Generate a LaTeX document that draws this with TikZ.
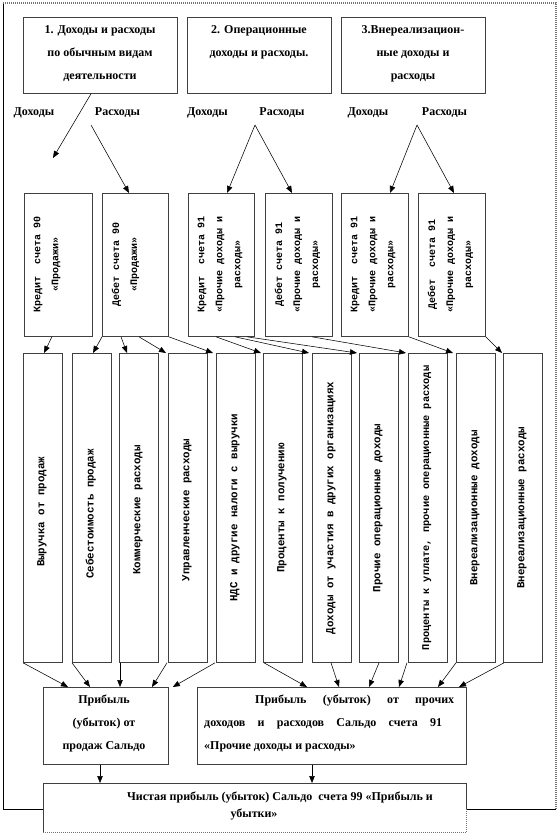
\documentclass[tikz,border=0pt]{standalone}
\usepackage{fontspec}
\setmainfont{Liberation Serif}
\newfontfamily\monof{Liberation Mono}
\usetikzlibrary{arrows.meta,calc}
\begin{document}
\begin{tikzpicture}[x=1pt,y=-1pt,
  box/.style={draw=black!75, line width=0.8pt, inner sep=0, anchor=north west, fill=white},
  arr/.style={-{Triangle[length=7pt,width=5.5pt]}, line width=0.55pt, black},
  ttl/.style={font=\bfseries\fontsize{12}{23}\selectfont, align=center, inner sep=0, anchor=north},
  lbl/.style={font=\bfseries\fontsize{12}{14}\selectfont, inner sep=0},
  vt/.style={font=\monof\bfseries\fontsize{10.8}{13}\selectfont, rotate=90, inner sep=0},
  vtt/.style={font=\monof\bfseries\fontsize{10}{18}\selectfont, rotate=90, align=center, inner sep=0, anchor=north},
]
\useasboundingbox (0,0) rectangle (559,834);
% outer frame
\draw[black, line width=0.8pt] (3,3) -- (3,809) -- (556,809);
\draw[black!55, line width=1.2pt, dash pattern=on 1pt off 1pt] (3,3) -- (556,3) -- (556,809);

% top boxes
\node[box, minimum width=154pt, minimum height=76pt] (h1) at (23,17) {};
\node[box, minimum width=144pt, minimum height=76pt] (h2) at (187,17) {};
\node[box, minimum width=144pt, minimum height=76pt] (h3) at (341,17) {};
\node[ttl] (h1t) at (100,25.5) {1. Доходы и расходы\\по обычным видам\\деятельности};
\node[ttl] (h2t) at (259,25.5) {2. Операционные\\доходы и расходы.};
\node[ttl] (h3t) at (413,25.5) {3.Внереализацион-\\ные доходы и\\расходы};

% labels
\node[lbl] (l1) at (34,113) {Доходы};
\node[lbl] (l2) at (117.5,113) {Расходы};
\node[lbl] (l3) at (207.5,113) {Доходы};
\node[lbl] (l4) at (282,113) {Расходы};
\node[lbl] (l5) at (368,113) {Доходы};
\node[lbl] (l6) at (444.5,113) {Расходы};

% account boxes
\node[box, minimum width=68pt, minimum height=143pt] (r1) at (24,193) {};
\node[box, minimum width=66pt, minimum height=143pt] (r2) at (102,193) {};
\node[box, minimum width=66pt, minimum height=143pt] (r3) at (188,193) {};
\node[box, minimum width=67pt, minimum height=143pt] (r4) at (265,193) {};
\node[box, minimum width=67pt, minimum height=143pt] (r5) at (341,193) {};
\node[box, minimum width=67pt, minimum height=143pt] (r6) at (418,193) {};
\node[vtt] (r1t) at ([xshift=9.5pt]r1.west) {Кредит~ счета 90\\«Продажи»};
\node[vtt] (r2t) at ([xshift=9.5pt]r2.west) {Дебет счета 90\\«Продажи»};
\node[vtt] (r3t) at ([xshift=9.5pt]r3.west) {Кредит~ счета 91\\«Прочие доходы и\\расходы»};
\node[vtt] (r4t) at ([xshift=9.5pt]r4.west) {Дебет счета 91\\«Прочие доходы и\\расходы»};
\node[vtt] (r5t) at ([xshift=9.5pt]r5.west) {Кредит~ счета 91\\«Прочие доходы и\\расходы»};
\node[vtt] (r6t) at ([xshift=9.5pt]r6.west) {Дебет~ счета 91\\«Прочие доходы и\\расходы»};

% tall boxes
\foreach \i/\l in {1/23,2/72,3/119,4/168,5/216,6/263,7/312,8/359,9/408,10/456,11/503}{
  \node[box, minimum width=39pt, minimum height=309pt] (t\i) at (\l,353) {};
}
\node[vt] (t1x) at ([xshift=-1pt,yshift=-4pt]t1.center) {Выручка от продаж};
\node[vt] (t2x) at ([xshift=-1pt,yshift=-6pt]t2.center) {Себестоимость продаж};
\node[vt] (t3x) at ([xshift=-1pt,yshift=-2pt]t3.center) {Коммерческие расходы};
\node[vt] (t4x) at ([xshift=-1pt,yshift=-2pt]t4.center) {Управленческие расходы};
\node[vt] (t5x) at ([xshift=-1pt]t5.center) {НДС и другие налоги с выручки};
\node[vt] (t6x) at ([xshift=-1pt]t6.center) {Проценты к получению};
\node[vt] (t7x) at ([xshift=-1pt]t7.center) {Доходы от участия в других организациях};
\node[vt] (t8x) at ([xshift=-1pt]t8.center) {Прочие операционные доходы};
\node[vt, font=\monof\bfseries\fontsize{10.3}{13}\selectfont] (t9x) at ([xshift=-1pt]t9.center) {Проценты к уплате, прочие операционные расходы};
\node[vt] (t10x) at ([xshift=-1pt]t10.center) {Внереализационные доходы};
\node[vt] (t11x) at ([xshift=-1pt]t11.center) {Внереализационные расходы};

% result boxes
\node[box, minimum width=125pt, minimum height=77pt] (b1) at (43,687) {};
\node[box, minimum width=269pt, minimum height=77pt] (b2) at (197,687) {};
\node[ttl] (b1t) at (104,695) {Прибыль\\(убыток) от\\продаж Сальдо};
\node[ttl, align=left, anchor=north west] (b2t) at (204,695)
  {\hspace*{51pt}\makebox[199pt][s]{Прибыль (убыток) от прочих}\\
   \makebox[238pt][s]{доходов и расходов Сальдо счета 91}\\
   «Прочие доходы и расходы»};

% final box
\node[anchor=north west, minimum width=423pt, minimum height=49pt, inner sep=0, fill=white] (bb) at (43,783) {};
\draw[black!75, line width=0.8pt] (bb.south west) -- (bb.north west) -- (bb.north east) -- ([yshift=-26pt]bb.north east);
\draw[black!55, line width=1.2pt, dash pattern=on 1pt off 1pt] ([yshift=-26pt]bb.north east) -- (bb.south east) -- (bb.south west);
\node[ttl, font=\bfseries\fontsize{12}{17}\selectfont] (bbt) at (254,792) {\hspace*{52pt}Чистая прибыль (убыток) Сальдо~ счета 99 «Прибыль и\\убытки»};

% arrows: top level
\coordinate (e1) at (53,158);
\coordinate (s1) at (91,125);
\coordinate (s2) at (255,125);
\coordinate (s3) at (417,125);
\draw[arr] ([xshift=68pt]h1.south west) -- (e1);
\draw[arr] (s1) -- ([xshift=27pt]r2.north west);
\draw[arr] (s2) -- ([xshift=39pt]r3.north west);
\draw[arr] (s2) -- ([xshift=27pt]r4.north west);
\draw[arr] (s3) -- ([xshift=49pt]r5.north west);
\draw[arr] (s3) -- ([xshift=36pt]r6.north west);

% accounts -> items
\draw[arr] ([xshift=28pt]r1.south west) -- ([xshift=21pt]t1.north west);
\draw[arr] (r2.south west) -- ([xshift=21pt]t2.north west);
\draw[arr] ([xshift=19pt]r2.south west) -- ([xshift=8pt]t3.north west);
\draw[arr] ([xshift=37pt]r2.south west) -- ([xshift=-2pt]t4.north west);
\draw[arr] (r2.south east) -- ([xshift=-3pt]t5.north west);
\draw[arr] ([xshift=28pt]r3.south west) -- ([xshift=-2pt]t6.north west);
\draw[arr] ([xshift=47pt]r3.south west) -- ([xshift=-3pt]t7.north west);
\draw[arr] ([xshift=59pt]r3.south west) -- ([xshift=-2pt]t8.north west);
\draw[arr] ([xshift=47pt]r4.south west) -- ([xshift=-2pt]t9.north west);
\draw[arr] (r5.south east) -- ([xshift=-3pt]t10.north west);
\draw[arr] (r6.south east) -- ([xshift=-1pt]t11.north west);

% items -> results
\draw[arr] (t1.south west) -- ([xshift=25pt]b1.north west);
\draw[arr] (t2.south west) -- ([xshift=47pt]b1.north west);
\draw[arr] ([xshift=1pt]t3.south west) -- ([xshift=77pt]b1.north west);
\draw[arr] ([xshift=-1pt]t4.south west) -- ([xshift=109pt]b1.north west);
\draw[arr] ([xshift=-1pt]t5.south west) -- ([xshift=4pt]b1.north east);
\draw[arr] ([xshift=1pt]t6.south west) -- ([xshift=110pt]b2.north west);
\draw[arr] ([xshift=19pt]t7.south west) -- ([xshift=142pt]b2.north west);
\draw[arr] ([xshift=20pt]t8.south west) -- ([xshift=172pt]b2.north west);
\draw[arr] ([xshift=-1pt]t9.south west) -- ([xshift=202pt]b2.north west);
\draw[arr] (t10.south west) -- ([xshift=241pt]b2.north west);
\draw[arr] ([xshift=1pt]t11.south west) -- ([xshift=262pt]b2.north west);

% results -> final
\draw[arr] ([xshift=57pt]b1.south west) -- ([xshift=57pt]bb.north west);
\draw[arr] ([xshift=115pt]b2.south west) -- ([xshift=269pt]bb.north west);
\end{tikzpicture}
\end{document}
